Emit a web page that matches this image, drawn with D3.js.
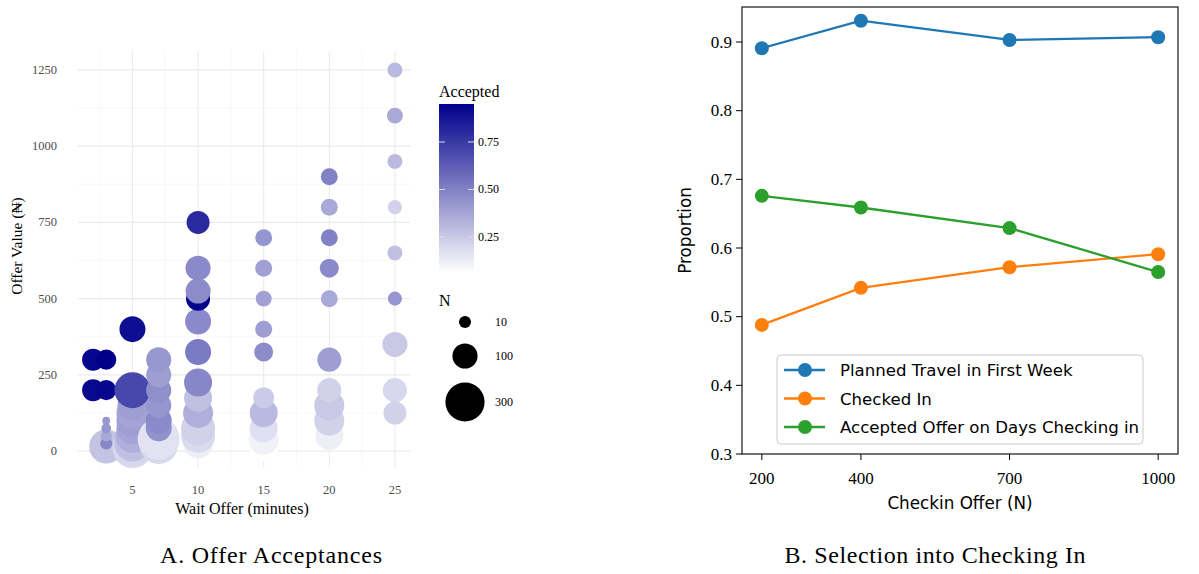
<!DOCTYPE html>
<html>
<head>
<meta charset="utf-8">
<script src="https://cdn.jsdelivr.net/npm/d3@7"></script>
<style>
  html, body { margin: 0; padding: 0; background: #fff; }
  svg { display: block; }
</style>
</head>
<body>
<svg id="chart" width="1199" height="574"></svg>
<script>
// ---------- Panel A data (one entry per bubble) ----------
const waitOffer = [
  2, 2,
  3, 3, 3, 3, 3, 3, 3,
  5, 5, 5, 5, 5, 5, 5, 5, 5,
  7, 7, 7, 7, 7, 7, 7, 7,
  10, 10, 10, 10, 10, 10, 10, 10, 10, 10, 10, 10,
  15, 15, 15, 15, 15, 15, 15, 15, 15, 15,
  20, 20, 20, 20, 20, 20, 20, 20, 20, 20,
  25, 25, 25, 25, 25, 25, 25, 25, 25
];
const offerValue = [
  300, 200,
  15, 300, 200, 25, 50, 75, 100,
  10, 25, 50, 75, 100, 125, 150, 200, 400,
  20, 40, 75, 100, 150, 200, 250, 300,
  25, 50, 75, 125, 175, 225, 325, 425, 500, 525, 600, 750,
  12, 37, 75, 125, 175, 325, 400, 500, 600, 700,
  50, 100, 150, 200, 300, 500, 600, 700, 800, 900,
  125, 200, 350, 500, 650, 800, 950, 1100, 1250
];
const countN = [
  70, 70,
  215, 54, 54, 10, 7, 4, 1,
  314, 245, 213, 184, 184, 184, 157, 245, 109,
  279, 352, 109, 109, 99, 99, 99, 99,
  157, 213, 213, 157, 132, 132, 109, 109, 89, 99, 99, 79,
  132, 157, 132, 132, 62, 46, 33, 27, 33, 33,
  132, 157, 157, 89, 89, 33, 46, 33, 33, 33,
  79, 89, 99, 18, 22, 18, 22, 27, 22
];
const accepted = [
  0.93, 0.92,
  0.27, 0.95, 0.93, 0.48, 0.36, 0.43, 0.42,
  0.20, 0.28, 0.34, 0.38, 0.40, 0.38, 0.40, 0.70, 0.90,
  0.20, 0.16, 0.44, 0.47, 0.43, 0.45, 0.40, 0.42,
  0.12, 0.19, 0.22, 0.34, 0.28, 0.48, 0.52, 0.47, 0.94, 0.46, 0.47, 0.80,
  0.06, 0.11, 0.17, 0.30, 0.24, 0.46, 0.40, 0.39, 0.39, 0.43,
  0.12, 0.22, 0.25, 0.22, 0.40, 0.36, 0.47, 0.50, 0.36, 0.50,
  0.22, 0.20, 0.25, 0.43, 0.28, 0.22, 0.30, 0.36, 0.30
];
const waitTicks = [5, 10, 15, 20, 25];
const offerTicks = [0, 250, 500, 750, 1000, 1250];
const colorTicks = [0.25, 0.50, 0.75];
const sizeLegendN = [10, 100, 300];

// ---------- Panel B data ----------
const checkinOffer = [200, 400, 700, 1000];
const plannedTravel = [0.891, 0.931, 0.903, 0.907];
const checkedIn = [0.488, 0.542, 0.572, 0.591];
const acceptedOnDays = [0.676, 0.659, 0.629, 0.565];
const seriesNames = ["Planned Travel in First Week", "Checked In", "Accepted Offer on Days Checking in"];
const seriesColors = ["#1f77b4", "#ff7f0e", "#2ca02c"];
const propTicks = [0.3, 0.4, 0.5, 0.6, 0.7, 0.8, 0.9];

const svg = d3.select("#chart");
const serifA = "'Liberation Serif', 'Times New Roman', serif";

// =============== PANEL A ===============
const bubbles = waitOffer.map((w, i) => ({ w, o: offerValue[i], n: countN[i], a: accepted[i] }));
const xA = d3.scaleLinear().domain([0.85, 26.15]).range([78, 410]);
const yA = d3.scaleLinear().domain([-52, 1312]).range([467, 51]);
const aExt = d3.extent(accepted);
const colA = d3.scaleLinear().domain(aExt).range(["#ffffff", "#00008b"]).interpolate(d3.interpolateRgb);
const rA = d3.scaleSqrt().domain([10, 300]).range([6, 19.6]);

const gA = svg.append("g");
// grid minor
const minorX = d3.range(2.5, 26, 5);
const minorY = d3.range(125, 1312, 250);
gA.selectAll(".mx").data(minorX).join("line")
  .attr("x1", d => xA(d)).attr("x2", d => xA(d)).attr("y1", yA.range()[0]).attr("y2", yA.range()[1])
  .attr("stroke", "#f3f3f3").attr("stroke-width", 0.6);
gA.selectAll(".my").data(minorY).join("line")
  .attr("y1", d => yA(d)).attr("y2", d => yA(d)).attr("x1", xA.range()[0]).attr("x2", xA.range()[1])
  .attr("stroke", "#f3f3f3").attr("stroke-width", 0.6);
// grid major
gA.selectAll(".Mx").data(waitTicks).join("line")
  .attr("x1", d => xA(d)).attr("x2", d => xA(d)).attr("y1", yA.range()[0]).attr("y2", yA.range()[1])
  .attr("stroke", "#ebebeb").attr("stroke-width", 1.1);
gA.selectAll(".My").data(offerTicks).join("line")
  .attr("y1", d => yA(d)).attr("y2", d => yA(d)).attr("x1", xA.range()[0]).attr("x2", xA.range()[1])
  .attr("stroke", "#ebebeb").attr("stroke-width", 1.1);

// bubbles
gA.selectAll("circle.b").data(bubbles).join("circle")
  .attr("cx", d => xA(d.w)).attr("cy", d => yA(d.o)).attr("r", d => rA(d.n))
  .attr("fill", d => colA(d.a));

// tick labels
gA.selectAll(".xt").data(waitTicks).join("text")
  .attr("x", d => xA(d)).attr("y", 494).attr("text-anchor", "middle")
  .attr("font-family", serifA).attr("font-size", 12.5).attr("fill", "#4d4d4d").text(d => d);
gA.selectAll(".yt").data(offerTicks).join("text")
  .attr("x", 57).attr("y", d => yA(d) + 4).attr("text-anchor", "end")
  .attr("font-family", serifA).attr("font-size", 12.5).attr("fill", "#4d4d4d").text(d => d);
gA.append("text").attr("x", 242).attr("y", 514).attr("text-anchor", "middle")
  .attr("font-family", serifA).attr("font-size", 16).attr("fill", "#000").text("Wait Offer (minutes)");
gA.append("text").attr("transform", "translate(22,246) rotate(-90)").attr("text-anchor", "middle")
  .attr("font-family", serifA).attr("font-size", 15.5).attr("fill", "#000").text("Offer Value (₦)");

// colour legend
const cbX = 439, cbW = 35, cbTop = 104, cbBot = 273;
const defs = svg.append("defs");
const grad = defs.append("linearGradient").attr("id", "cbgrad").attr("x1", 0).attr("x2", 0).attr("y1", 1).attr("y2", 0);
d3.range(0, 1.0001, 0.05).forEach(t => {
  grad.append("stop").attr("offset", t).attr("stop-color", colA(aExt[0] + t * (aExt[1] - aExt[0])));
});
const yCb = d3.scaleLinear().domain(aExt).range([cbBot, cbTop]);
gA.append("text").attr("x", cbX).attr("y", 97).attr("font-family", serifA).attr("font-size", 16).text("Accepted");
gA.append("rect").attr("x", cbX).attr("y", cbTop).attr("width", cbW).attr("height", cbBot - cbTop).attr("fill", "url(#cbgrad)");
colorTicks.forEach(t => {
  gA.append("line").attr("x1", cbX).attr("x2", cbX + 6).attr("y1", yCb(t)).attr("y2", yCb(t)).attr("stroke", "#ddd").attr("stroke-width", 1);
  gA.append("line").attr("x1", cbX + cbW - 6).attr("x2", cbX + cbW).attr("y1", yCb(t)).attr("y2", yCb(t)).attr("stroke", "#ddd").attr("stroke-width", 1);
  gA.append("text").attr("x", cbX + cbW + 4).attr("y", yCb(t) + 4).attr("font-family", serifA).attr("font-size", 12).text(d3.format(".2f")(t));
});
// size legend
gA.append("text").attr("x", cbX).attr("y", 306).attr("font-family", serifA).attr("font-size", 16).text("N");
const sizeY = [322, 356, 402];
sizeLegendN.forEach((n, i) => {
  gA.append("circle").attr("cx", 465).attr("cy", sizeY[i]).attr("r", rA(n)).attr("fill", "#000");
  gA.append("text").attr("x", 495).attr("y", sizeY[i] + 4).attr("font-family", serifA).attr("font-size", 12).text(n);
});

// caption A
svg.append("text").attr("x", 271).attr("y", 563).attr("text-anchor", "middle")
  .attr("font-family", serifA).attr("font-size", 24).attr("textLength", 222).attr("lengthAdjust", "spacing")
  .text("A. Offer Acceptances");

// =============== PANEL B ===============
const L = 742, R = 1178, T = 7, B = 454;
const xB = d3.scaleLinear().domain([160, 1040]).range([L, R]);
const yB = d3.scaleLinear().domain([0.3, 0.951]).range([B, T]);
const gB = svg.append("g");
const serifB = "'Liberation Serif', serif";
const sansB = "'DejaVu Sans', sans-serif";

const series = [plannedTravel, checkedIn, acceptedOnDays];
const line = d3.line().x((d, i) => xB(checkinOffer[i])).y(d => yB(d));
series.forEach((s, k) => {
  gB.append("path").datum(s).attr("d", line).attr("fill", "none").attr("stroke", seriesColors[k]).attr("stroke-width", 2.3);
  gB.selectAll(".pt" + k).data(s).join("circle")
    .attr("cx", (d, i) => xB(checkinOffer[i])).attr("cy", d => yB(d)).attr("r", 7).attr("fill", seriesColors[k]);
});

// axes frame
gB.append("rect").attr("x", L).attr("y", T).attr("width", R - L).attr("height", B - T)
  .attr("fill", "none").attr("stroke", "#000").attr("stroke-width", 1.1);
propTicks.forEach(t => {
  gB.append("line").attr("x1", L - 6).attr("x2", L).attr("y1", yB(t)).attr("y2", yB(t)).attr("stroke", "#000").attr("stroke-width", 1);
  gB.append("text").attr("x", L - 10).attr("y", yB(t) + 5.5).attr("text-anchor", "end")
    .attr("font-family", serifB).attr("font-size", 17).text(t.toFixed(1));
});
checkinOffer.forEach(t => {
  gB.append("line").attr("x1", xB(t)).attr("x2", xB(t)).attr("y1", B).attr("y2", B + 6).attr("stroke", "#000").attr("stroke-width", 1);
  gB.append("text").attr("x", xB(t)).attr("y", B + 30).attr("text-anchor", "middle")
    .attr("font-family", serifB).attr("font-size", 17).text(t);
});
gB.append("text").attr("x", (L + R) / 2).attr("y", 509).attr("text-anchor", "middle")
  .attr("font-family", sansB).attr("font-size", 16.8).text("Checkin Offer (N)");
gB.append("text").attr("transform", `translate(691,${(T + B) / 2}) rotate(-90)`).attr("text-anchor", "middle")
  .attr("font-family", sansB).attr("font-size", 16.8).text("Proportion");

// legend
gB.append("rect").attr("x", 777).attr("y", 355).attr("width", 366).attr("height", 89).attr("rx", 4)
  .attr("fill", "#fff").attr("fill-opacity", 0.8).attr("stroke", "#ccc").attr("stroke-width", 1);
seriesNames.forEach((nm, k) => {
  const yy = 370 + k * 28.5;
  gB.append("line").attr("x1", 784).attr("x2", 825).attr("y1", yy).attr("y2", yy).attr("stroke", seriesColors[k]).attr("stroke-width", 2.3);
  gB.append("circle").attr("cx", 805).attr("cy", yy).attr("r", 7).attr("fill", seriesColors[k]);
  gB.append("text").attr("x", 840).attr("y", yy + 6).attr("font-family", sansB).attr("font-size", 16.6).text(nm);
});

// caption B
svg.append("text").attr("x", 935).attr("y", 563).attr("text-anchor", "middle")
  .attr("font-family", serifA).attr("font-size", 24).attr("textLength", 301).attr("lengthAdjust", "spacing")
  .text("B. Selection into Checking In");
</script>
</body>
</html>
